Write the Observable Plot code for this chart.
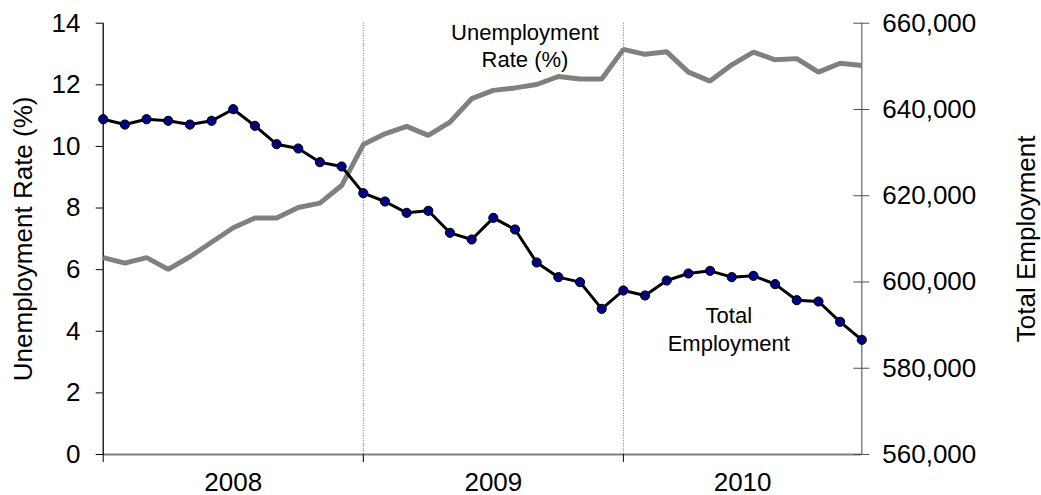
<!DOCTYPE html>
<html>
<head>
<meta charset="utf-8">
<script src="https://cdn.jsdelivr.net/npm/d3@7"></script>
<script src="https://cdn.jsdelivr.net/npm/@observablehq/plot@0.6"></script>
<style>
  html, body { margin: 0; padding: 0; background: #ffffff; overflow: hidden; }
  svg { display: block; }
</style>
</head>
<body>
<div id="chart"></div>
<script>
const months = [
  "Jan 2008","Feb 2008","Mar 2008","Apr 2008","May 2008","Jun 2008","Jul 2008","Aug 2008","Sep 2008","Oct 2008","Nov 2008","Dec 2008",
  "Jan 2009","Feb 2009","Mar 2009","Apr 2009","May 2009","Jun 2009","Jul 2009","Aug 2009","Sep 2009","Oct 2009","Nov 2009","Dec 2009",
  "Jan 2010","Feb 2010","Mar 2010","Apr 2010","May 2010","Jun 2010","Jul 2010","Aug 2010","Sep 2010","Oct 2010","Nov 2010","Dec 2010"
];
const unemploymentRate = [
  6.39, 6.21, 6.39, 6.01, 6.42, 6.89, 7.36, 7.68, 7.68, 8.02, 8.16, 8.73,
  10.06, 10.41, 10.65, 10.36, 10.79, 11.55, 11.82, 11.90, 12.01, 12.27, 12.19, 12.19,
  13.15, 12.99, 13.07, 12.41, 12.12, 12.65, 13.06, 12.81, 12.85, 12.41, 12.70, 12.63
];
const totalEmployment = [
  637740, 636500, 637740, 637370, 636500, 637370, 640060, 636200, 631950, 630950, 627780, 626780,
  620590, 618660, 616030, 616500, 611400, 609850, 614870, 612170, 604520, 601120, 599960, 593770,
  598030, 596870, 600340, 601970, 602580, 601120, 601420, 599500, 595780, 595470, 590760, 586590
];
const years = ["2008", "2009", "2010"];
const rateTicks = [0, 2, 4, 6, 8, 10, 12, 14];
const employmentTicks = [560000, 580000, 600000, 620000, 640000, 660000];
const rateDomain = [0, 14];
const employmentDomain = [560000, 660000];

// map employment onto the rate (left) scale for the secondary axis
const toRate = v => rateDomain[0] + (v - employmentDomain[0]) / (employmentDomain[1] - employmentDomain[0]) * (rateDomain[1] - rateDomain[0]);
const fromRate = r => employmentDomain[0] + (r - rateDomain[0]) / (rateDomain[1] - rateDomain[0]) * (employmentDomain[1] - employmentDomain[0]);

const data = months.map((m, i) => ({
  i, month: m, rate: unemploymentRate[i], emp: totalEmployment[i], empScaled: toRate(totalEmployment[i])
}));
const lastIndex = months.length - 1;
const yearStarts = years.map(y => months.findIndex(m => m.endsWith(y)));
const yearLabels = years.map((y, k) => ({
  year: y,
  x: (yearStarts[k] + Math.min(yearStarts[k] + 12, lastIndex)) / 2
}));
const yearBoundaries = yearStarts.filter(s => s > 0);

const FONT = "'Liberation Sans', Arial, Helvetica, sans-serif";

const chart = Plot.plot({
  width: 1041,
  height: 495,
  marginLeft: 102.7,
  marginRight: 179.7,
  marginTop: 22.7,
  marginBottom: 41,
  style: { fontFamily: FONT, background: "#ffffff", color: "#000000", overflow: "visible" },
  x: { domain: [0, lastIndex], axis: null },
  y: { domain: rateDomain, axis: null },
  marks: [
    // year separators (dotted)
    Plot.ruleX(yearBoundaries, { stroke: "#707070", strokeWidth: 1, strokeDasharray: "1,1.5" }),
    // axis lines
    Plot.ruleY([rateDomain[0]], { stroke: "#808080", strokeWidth: 2 }),
    Plot.ruleX([0], { stroke: "#000000", strokeWidth: 1.3 }),
    Plot.ruleX([lastIndex], { stroke: "#707070", strokeWidth: 1.3 }),
    // left axis
    Plot.axisY({
      anchor: "left", ticks: rateTicks, tickSize: 7, tickPadding: 15.7,
      fontSize: 26, label: null, stroke: "#000000", tickFormat: d => String(d)
    }),
    // right axis (employment)
    Plot.ruleY(employmentTicks.map(toRate), {
      x1: lastIndex, x2: lastIndex, insetLeft: -8, insetRight: -8, stroke: "#505050", strokeWidth: 1
    }),
    Plot.axisY({
      anchor: "right", ticks: employmentTicks.map(toRate), tickSize: 0, tickPadding: 20.5,
      fontSize: 26, label: null,
      tickFormat: d => d3.format(",")(Math.round(fromRate(d)))
    }),
    // x axis ticks and year labels
    Plot.axisX({
      anchor: "bottom", ticks: [0, ...yearBoundaries], tickSize: 8, tickFormat: () => "",
      label: null, stroke: "#000000"
    }),
    Plot.text(yearLabels, {
      x: "x", y: () => rateDomain[0], text: "year", dy: 28, fontSize: 26, fill: "#000000"
    }),
    // axis titles
    Plot.text(["Unemployment Rate (%)"], {
      frameAnchor: "left", textAnchor: "middle", rotate: -90, dx: -79.7, fontSize: 26, fill: "#000000"
    }),
    Plot.text(["Total Employment"], {
      frameAnchor: "right", textAnchor: "middle", rotate: -90, dx: 164.7, fontSize: 26, fill: "#000000"
    }),
    // series
    Plot.line(data, { x: "i", y: "rate", stroke: "#808080", strokeWidth: 5, strokeLinejoin: "miter", strokeLinecap: "butt" }),
    Plot.line(data, { x: "i", y: "empScaled", stroke: "#000000", strokeWidth: 3 }),
    Plot.dot(data, { x: "i", y: "empScaled", r: 4.6, fill: "#000080", stroke: "#000000", strokeWidth: 1 }),
    // series annotations
    Plot.text(["Unemployment\nRate (%)"], {
      frameAnchor: "top", dx: 42.5, dy: -3.2, fontSize: 22, lineHeight: 1.26, fill: "#000000"
    }),
    Plot.text(["Total\nEmployment"], {
      frameAnchor: "top", dx: 246.3, dy: 279.6, fontSize: 22, lineHeight: 1.29, fill: "#000000"
    })
  ]
});
document.getElementById("chart").appendChild(chart);
</script>
</body>
</html>
